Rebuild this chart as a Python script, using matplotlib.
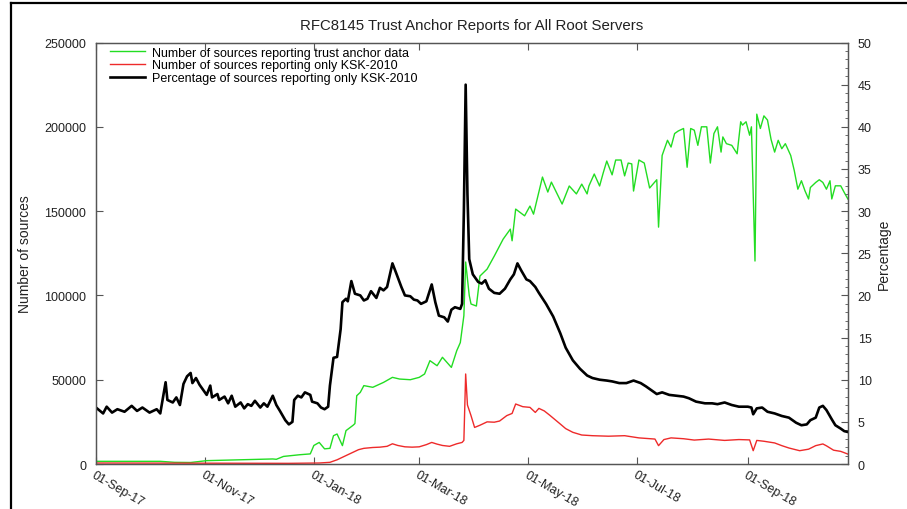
import numpy as np
import pandas as pd
import matplotlib
matplotlib.use('Agg')
import matplotlib.pyplot as plt
import matplotlib.dates as mdates
from matplotlib.lines import Line2D
from matplotlib.ticker import MultipleLocator

plt.rcParams['font.family'] = ['Liberation Sans', 'DejaVu Sans']

start = pd.Timestamp('2017-09-01')

# days since 01-Sep-17 and values
total_day = [0, 36, 44, 53, 62, 81, 99, 101, 105, 114, 120, 122, 125, 128, 131, 133, 135, 138, 140,
             144, 145, 146, 148, 150, 155, 161, 166, 170, 176, 181, 184, 187, 191, 194, 199, 202, 204,
             206, 207, 209, 210, 213, 215, 219, 223, 228, 232, 233, 235, 240, 243, 245, 250, 253, 255,
             261, 265, 269, 272, 275, 276, 279, 282, 284, 286, 289, 291, 294, 296, 298, 300, 301, 304,
             307, 310, 314, 315, 317, 320, 322, 324, 326, 329, 331, 333, 335, 337, 339, 342, 344, 346,
             348, 350, 351, 353, 356, 359, 361, 362, 364, 366, 367, 369, 370, 372, 374, 376, 378, 380,
             382, 384, 386, 389, 391, 393, 395, 397, 399, 400, 403, 405, 407, 409, 411, 412, 414, 417,
             419, 421]
total_sources = [1600, 1600, 1000, 900, 2000, 2500, 3000, 2800, 4500, 5500, 6000, 11000, 12800, 9000,
                 9300, 16800, 17800, 10900, 19800, 23000, 24000, 40500, 42500, 46500, 45500, 48400,
                 51400, 50400, 50000, 51400, 53400, 61300, 58300, 63300, 57300, 67200, 72000, 88000,
                 119800, 100000, 94900, 93700, 111500, 115600, 123300, 133400, 139300, 132400, 151200,
                 147200, 153000, 148200, 170200, 161300, 167200, 154200, 164900, 160200, 166000, 160200,
                 164900, 172000, 164900, 172600, 179700, 171500, 180300, 180300, 170900, 178500, 178000,
                 161900, 180300, 178500, 163700, 168600, 140500, 183000, 192000, 188000, 196000, 197500,
                 199000, 176000, 199000, 198000, 189000, 200000, 200000, 178500, 196000, 200000, 185000,
                 194000, 190000, 189000, 184000, 203000, 201000, 203000, 195000, 200000, 120400, 207500,
                 199000, 206500, 204000, 192500, 185000, 192000, 187000, 190000, 183000, 174000, 163000,
                 168000, 162000, 157200, 164000, 167000, 168600, 167000, 163000, 168000, 157200, 165000,
                 165000, 161000, 157200]

ksk_day = [0, 58, 108, 125, 131, 135, 138, 141, 144, 147, 150, 155, 159, 163, 166, 169, 173, 177, 181,
           185, 188, 191, 194, 198, 202, 205, 206, 207, 208, 210, 212, 215, 219, 223, 226, 230, 233, 235,
           239, 243, 246, 248, 251, 254, 260, 263, 267, 272, 278, 287, 296, 304, 313, 315, 318, 322, 329,
           335, 343, 352, 360, 366, 368, 370, 374, 380, 384, 388, 394, 399, 403, 407, 409, 413, 417, 421]
ksk_sources = [600, 500, 400, 600, 1000, 2500, 4000, 5500, 7000, 8500, 9300, 9800, 10000, 10500, 12000,
               11000, 10200, 10000, 10200, 11500, 12800, 11800, 11000, 10500, 12000, 12800, 14000, 53400,
               35000, 28700, 21700, 23000, 25000, 24800, 25500, 28700, 30000, 35600, 34000, 33600, 30600,
               33000, 31500, 29000, 23700, 21000, 18800, 17200, 16800, 16500, 16800, 15500, 14800, 10900,
               14500, 15500, 15000, 14200, 14800, 14000, 14500, 14300, 7900, 14000, 13500, 12500, 10900,
               9500, 7900, 8800, 10900, 11900, 10800, 8200, 7500, 5900]

pct_day = [0, 4, 6, 9, 12, 16, 20, 23, 26, 30, 34, 36, 39, 40, 43, 45, 47, 49, 51, 53, 54, 56, 58, 60,
           62, 64, 65, 68, 69, 72, 74, 76, 78, 81, 83, 85, 87, 89, 92, 94, 96, 99, 101, 103, 106, 108,
           110, 111, 113, 115, 117, 120, 121, 124, 126, 128, 130, 131, 133, 135, 137, 138, 140, 141, 143,
           145, 148, 150, 152, 154, 157, 159, 161, 163, 166, 168, 171, 173, 176, 178, 180, 182, 185, 188,
           190, 192, 195, 197, 199, 201, 204, 205, 206, 207, 208, 209, 211, 214, 216, 218, 220, 223, 226,
           229, 232, 234, 236, 238, 241, 243, 246, 248, 252, 256, 260, 263, 267, 271, 275, 278, 282, 286,
           289, 293, 297, 301, 305, 308, 312, 314, 317, 321, 325, 329, 332, 336, 341, 345, 348, 352, 356,
           360, 365, 367, 368, 370, 373, 376, 380, 384, 388, 392, 395, 398, 400, 403, 405, 407, 409, 412,
           414, 417, 419, 421]
ksk_pct = [6.7, 6.0, 6.8, 6.1, 6.5, 6.2, 6.9, 6.3, 6.7, 6.1, 6.5, 6.0, 9.7, 7.6, 7.3, 7.9, 7.0, 9.5,
           10.4, 10.8, 9.6, 10.2, 9.4, 8.8, 8.2, 9.3, 7.9, 8.3, 7.6, 8.0, 7.2, 8.1, 6.8, 7.3, 6.6, 7.1,
           6.9, 7.5, 6.7, 7.2, 6.8, 8.1, 7.0, 6.3, 5.2, 4.7, 5.0, 7.6, 8.1, 7.9, 8.5, 8.2, 7.4, 7.2, 6.7,
           6.5, 6.8, 9.3, 12.6, 12.7, 16.0, 19.2, 19.6, 19.3, 21.7, 20.2, 20.0, 19.4, 19.6, 20.5, 19.7,
           20.9, 20.6, 21.0, 23.8, 22.7, 21.0, 20.0, 19.9, 19.5, 19.4, 19.0, 19.3, 21.3, 19.2, 17.6, 17.4,
           16.9, 18.3, 18.6, 18.4, 19.0, 30.0, 45.0, 32.0, 24.3, 22.5, 21.6, 21.4, 21.8, 20.8, 20.3, 20.2,
           20.8, 21.9, 22.5, 23.8, 23.0, 21.9, 21.7, 21.0, 20.3, 19.0, 17.5, 15.5, 13.8, 12.3, 11.3, 10.5,
           10.2, 10.0, 9.9, 9.8, 9.6, 9.6, 9.9, 9.6, 9.2, 8.6, 8.3, 8.5, 8.2, 8.1, 8.0, 7.8, 7.4, 7.2, 7.2,
           7.1, 7.3, 7.0, 6.8, 6.8, 6.7, 5.9, 6.6, 6.7, 6.2, 6.0, 5.7, 5.5, 4.9, 4.6, 4.7, 5.2, 5.5, 6.7,
           6.9, 6.4, 5.3, 4.6, 4.2, 3.9, 3.8]

labels = ['Number of sources reporting trust anchor data',
          'Number of sources reporting only KSK-2010',
          'Percentage of sources reporting only KSK-2010']


def to_dates(days):
    return start + pd.to_timedelta(days, unit='D')


fig = plt.figure(figsize=(9.07, 5.10), dpi=100)
ax = fig.add_axes([0.1058, 0.0882, 0.829, 0.8265])
ax2 = ax.twinx()

l1, = ax.plot(to_dates(total_day), total_sources, color='#22dd22', lw=1.0)
l2, = ax.plot(to_dates(ksk_day), ksk_sources, color='#ee2a2a', lw=1.0)
l3, = ax2.plot(to_dates(pct_day), ksk_pct, color='black', lw=1.9, solid_joinstyle='round')

ax.set_xlim(start, start + pd.Timedelta(days=421))
ax.set_ylim(0, 250000)
ax2.set_ylim(0, 50)

ax.xaxis.set_major_locator(mdates.MonthLocator(bymonth=[1, 3, 5, 7, 9, 11]))
ax.xaxis.set_major_formatter(mdates.DateFormatter('%d-%b-%y'))
ax.yaxis.set_major_locator(MultipleLocator(50000))
ax2.yaxis.set_major_locator(MultipleLocator(5))
ax2.yaxis.set_minor_locator(MultipleLocator(1))

txt = '#222222'
for a in (ax, ax2):
    for s in a.spines.values():
        s.set_color('#555555')
        s.set_linewidth(0.9)
ax.tick_params(axis='x', direction='in', top=True, length=5, color='#555555',
               labelsize=9, labelcolor=txt, pad=3)
ax.tick_params(axis='y', direction='in', length=5, color='#555555', labelsize=9,
               labelcolor=txt, pad=7)
ax2.tick_params(axis='y', which='major', direction='in', length=5, color='#555555',
                labelsize=9, labelcolor=txt, pad=7)
ax2.tick_params(axis='y', which='minor', direction='in', length=2.5, color='#555555')
for lab in ax.get_xticklabels():
    lab.set_rotation(-30)
    lab.set_ha('left')
    lab.set_va('top')
    lab.set_rotation_mode('anchor')

ax.set_ylabel('Number of sources', fontsize=10, color=txt)
ax.yaxis.set_label_coords(-0.085, 0.5)
ax2.set_ylabel('Percentage', fontsize=10, color=txt)
ax2.yaxis.set_label_coords(1.039, 0.5)
ax.set_title('RFC8145 Trust Anchor Reports for All Root Servers', fontsize=10.8, color=txt, pad=10)

ax2.legend([l1, l2, l3], labels, loc='upper left', bbox_to_anchor=(0.0186, 0.990),
           frameon=False, fontsize=9, handlelength=2.8, handletextpad=0.6,
           labelspacing=0.05, borderaxespad=0, borderpad=0)

# border of the original screenshot (cut off at the right and bottom)
fig.add_artist(Line2D([11 / 907, 11 / 907], [0, 1 - 4 / 510], color='black', lw=1.6))
fig.add_artist(Line2D([11 / 907, 1], [1 - 4 / 510, 1 - 4 / 510], color='black', lw=1.6))

fig.savefig('out.png', dpi=100)
